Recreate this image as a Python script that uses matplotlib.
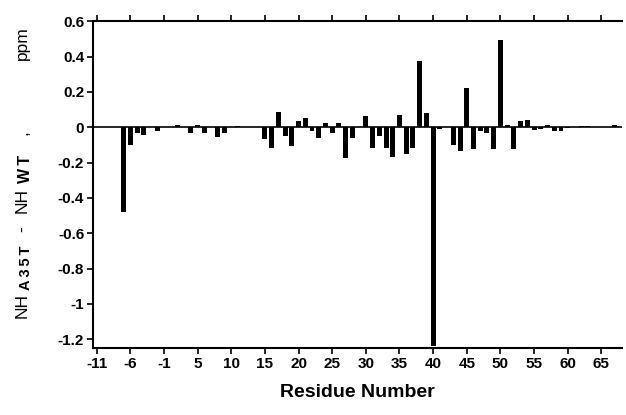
import matplotlib
matplotlib.use("Agg")
import matplotlib.pyplot as plt

plt.rcParams['font.family'] = ['Liberation Sans', 'DejaVu Sans']

# residue numbering skips 0
residues = list(range(-11, 0)) + list(range(1, 69))

# NH(A35T) - NH(WT), ppm, one per residue
shifts = [
    0, 0, 0, 0, -0.48, -0.10, -0.034, -0.043, 0, -0.024,
    0, 0, 0.013, 0, -0.033, 0.015, -0.033, 0, -0.056, -0.033,
    0, 0.005, 0.004, 0, 0, -0.064, -0.12, 0.085, -0.052, -0.107,
    0.034, 0.053, -0.022, -0.062, 0.022, -0.034, 0.022, -0.173, -0.06, 0,
    0.062, -0.12, -0.052, -0.12, -0.169, 0.071, -0.15, -0.12, 0.376, 0.083,
    -1.24, -0.01, 0, -0.10, -0.135, 0.222, -0.126, -0.022, -0.034, -0.122,
    0.494, 0.013, -0.126, 0.034, 0.043, -0.013, -0.011, 0.013, -0.022, -0.02,
    -0.005, 0, 0.008, 0.008, 0, 0.004, 0, 0.013, 0,
]

tick_labels = [-11, -6, -1, 5, 10, 15, 20, 25, 30, 35, 40, 45, 50, 55, 60, 65]

pos = list(range(len(residues)))

W, H = 626, 415
fig = plt.figure(figsize=(W / 100, H / 100), dpi=100)
ax = fig.add_axes([0.149, 0.161, 0.845, 0.788])

ax.bar(pos, shifts, width=0.74, color='black')
ax.axhline(0, color='black', lw=1.2)

ax.set_xlim(-0.5, 78.1)
ax.set_ylim(-1.25, 0.6)
ax.set_xticks([residues.index(r) for r in tick_labels])
ax.set_xticklabels([str(r) for r in tick_labels])
yt = [0.6, 0.4, 0.2, 0, -0.2, -0.4, -0.6, -0.8, -1, -1.2]
ax.set_yticks(yt)
ax.set_yticklabels(['0.6', '0.4', '0.2', '0', '-0.2', '-0.4', '-0.6', '-0.8', '-1', '-1.2'])

ax.spines['right'].set_visible(False)
for s in ['left', 'bottom', 'top']:
    ax.spines[s].set_linewidth(1.5)
ax.tick_params(axis='both', direction='out', length=4.5, width=1.2, labelsize=11, pad=2)
ax.tick_params(axis='x', top=True)
for lab in ax.get_xticklabels() + ax.get_yticklabels():
    lab.set_fontweight('bold')

ax.set_xlabel('Residue Number', fontsize=14, fontweight='bold', labelpad=9)

# y label built from pieces (reads bottom to top), positions in pixels from top
ts = '\u2009'
ylabel_parts = [
    ('NH', 318, 27, 12.5, 'normal'),
    (ts.join('A35T'), 290, 30, 10.5, 'bold'),
    ('-', 232, 27, 12.5, 'normal'),
    ('NH', 213, 27, 12.5, 'normal'),
    (ts.join('WT'), 183, 30, 11.5, 'bold'),
    (',', 135, 27, 12.5, 'normal'),
    ('ppm', 60, 27, 12.5, 'normal'),
]
for txt, ystart, xbase, size, weight in ylabel_parts:
    fig.text(xbase / W, 1 - ystart / H, txt, rotation=90, rotation_mode='anchor',
             ha='left', va='baseline', fontsize=size, fontweight=weight)

fig.savefig('out.png', dpi=100)
